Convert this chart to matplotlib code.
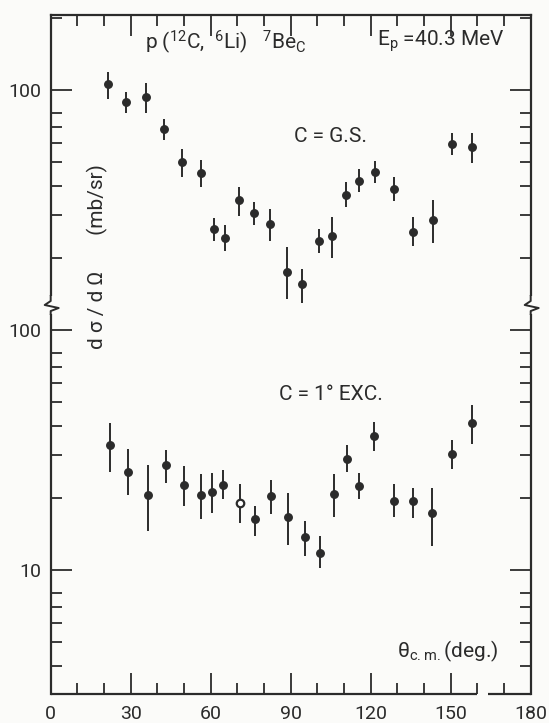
import numpy as np
import matplotlib
matplotlib.use('Agg')
import matplotlib.pyplot as plt
from matplotlib.lines import Line2D
from matplotlib.patches import Rectangle
from matplotlib.ticker import LogLocator, NullFormatter, FixedLocator, FixedFormatter, MultipleLocator

plt.rcParams['font.family'] = ['Roboto', 'DejaVu Sans']
plt.rcParams['mathtext.fontset'] = 'custom'
plt.rcParams['mathtext.rm'] = 'Roboto'
plt.rcParams['mathtext.default'] = 'regular'

INK = '#2b2b2b'
BG = '#fbfbf9'

# ground state, C = G.S.
th_gs = [21.6, 28.4, 35.7, 42.5, 49.3, 56.2, 61.3, 65.4, 70.7, 76.1, 82.2, 88.5,
         94.4, 100.5, 105.4, 110.7, 115.6, 121.6, 128.8, 135.7, 143.4, 150.5, 158.0]
xs_gs = [106, 88.9, 93.8, 68.6, 50.0, 45.2, 26.3, 24.2, 34.8, 30.8, 27.7, 17.5,
         15.5, 23.5, 24.7, 36.5, 41.9, 45.6, 38.7, 25.7, 28.7, 59.6, 58.0]
hi_gs = [119, 98.4, 106.6, 75.5, 56.8, 51.1, 29.2, 27.4, 39.3, 34.3, 31.8, 22.1,
         17.9, 26.3, 29.5, 41.2, 46.7, 50.8, 43.2, 29.5, 34.8, 66.4, 66.4]
lo_gs = [91.7, 80.0, 80.0, 61.9, 43.6, 39.3, 23.6, 21.4, 29.9, 27.4, 23.6, 13.4,
         12.9, 20.9, 19.9, 32.6, 37.5, 40.8, 34.6, 22.4, 23.0, 53.6, 49.5]

# first excited state, C = 1° EXC.
th_ex = [22.2, 29.0, 36.6, 43.1, 49.8, 56.5, 60.3, 64.6, 70.9, 76.7, 82.6, 88.9,
         95.2, 100.9, 106.1, 111.2, 115.6, 121.4, 128.9, 135.7, 142.9, 150.5, 157.9]
xs_ex = [33.2, 25.6, 20.6, 27.3, 22.6, 20.6, 21.1, 22.7, 19.0, 16.3, 20.3, 16.7,
         13.7, 11.8, 20.8, 28.9, 22.4, 36.1, 19.4, 19.3, 17.2, 30.5, 40.8]
hi_ex = [41.1, 31.8, 27.4, 31.6, 27.1, 25.1, 25.3, 26.1, 22.8, 18.5, 23.7, 21.0,
         16.0, 13.8, 25.1, 33.2, 25.3, 41.5, 22.8, 22.0, 21.9, 34.8, 48.7]
lo_ex = [25.7, 20.5, 14.5, 23.0, 18.4, 16.3, 17.2, 19.7, 15.7, 13.8, 17.1, 12.7,
         11.4, 10.2, 16.6, 25.5, 19.7, 31.4, 16.6, 16.4, 12.6, 26.3, 33.5]
open_ex = [8]  # hollow marker

W, H = 549, 723
fig = plt.figure(figsize=(W / 100, H / 100), dpi=100, facecolor=BG)

def fx(x):
    return x / W

def fy(y):
    return 1 - y / H

L, R, T, B, BRK = 50.7, 530.7, 15, 694, 305
ax1 = fig.add_axes([fx(L), fy(BRK), fx(R) - fx(L), fy(T) - fy(BRK)], facecolor='none')
ax2 = fig.add_axes([fx(L), fy(B), fx(R) - fx(L), fy(BRK) - fy(B)], facecolor='none')

def draw(ax, th, val, hi, lo, hollow=()):
    th = np.array(th); val = np.array(val)
    err = [val - np.array(lo), np.array(hi) - val]
    ax.errorbar(th, val, yerr=err, fmt='none', ecolor=INK, elinewidth=1.4, capsize=0)
    fill = np.array([i not in hollow for i in range(len(th))])
    ax.plot(th[fill], val[fill], 'o', ms=5.4, color=INK, mec=INK)
    ax.plot(th[~fill], val[~fill], 'o', ms=5.4, mfc='white', mec=INK, mew=1.6)

draw(ax1, th_gs, xs_gs, hi_gs, lo_gs)
draw(ax2, th_ex, xs_ex, hi_ex, lo_ex, open_ex)

ax1.set_ylim(10 ** (2 - (BRK - 90) / 240), 10 ** (2 + (90 - T) / 240))
ax2.set_ylim(10 ** (1 - (B - 570) / 240), 10 ** (2 + (330 - BRK) / 240))

for ax in (ax1, ax2):
    ax.set_yscale('log')
    ax.set_xlim(0, 180)
    ax.xaxis.set_major_locator(MultipleLocator(30))
    ax.xaxis.set_minor_locator(MultipleLocator(10))
    ax.yaxis.set_minor_locator(LogLocator(subs=[2, 3, 4, 5, 6, 7, 8]))
    ax.yaxis.set_minor_formatter(NullFormatter())
    ax.tick_params(which='both', direction='in', color=INK, width=1.3, labelcolor=INK,
                   labelsize=14, left=True, right=True)
    ax.tick_params(which='major', length=15)
    ax.tick_params(which='minor', length=8)
    ax.tick_params(axis='y', pad=7)
    ax.tick_params(axis='x', pad=8)
    for s in ax.spines.values():
        s.set_color(INK)
        s.set_linewidth(1.6)

ax1.yaxis.set_major_locator(FixedLocator([100]))
ax1.yaxis.set_major_formatter(FixedFormatter(['100']))
ax2.yaxis.set_major_locator(FixedLocator([10, 100]))
ax2.yaxis.set_major_formatter(FixedFormatter(['10', '100']))

ax1.tick_params(axis='x', which='both', bottom=False, top=True, labelbottom=False)
ax1.spines['bottom'].set_visible(False)
ax2.tick_params(axis='x', which='both', bottom=True, top=False)
ax2.spines['top'].set_visible(False)
ax2.spines['bottom'].set_visible(False)
# bottom frame line, with the small gap seen in the scan
tr = ax2.get_xaxis_transform()
ax2.plot([0, 159.8], [0, 0], color=INK, lw=1.6, transform=tr, clip_on=False, solid_capstyle='butt')
ax2.plot([164.0, 180], [0, 0], color=INK, lw=1.6, transform=tr, clip_on=False, solid_capstyle='butt')

# axis break marks on both sides
for xa in (L, R):
    fig.add_artist(Rectangle((fx(xa - 3), fy(BRK + 9)), fx(6), fy(0) - fy(18),
                             transform=fig.transFigure, facecolor=BG, edgecolor='none', zorder=5))
    pts = [(0, -9), (0, -4), (-6, 0), (8, 3), (0, 6), (0, 9)]
    fig.add_artist(Line2D([fx(xa + dx) for dx, dy in pts],
                          [fy(BRK + dy) for dx, dy in pts],
                          transform=fig.transFigure, color=INK, lw=1.4, zorder=6))

txt = dict(color=INK, fontsize=15)
fig.text(fx(145), fy(42), r'p ($^{12}$C,  $^{6}$Li)   $^{7}$Be$_{C}$', ha='left', va='center', **txt)
fig.text(fx(377), fy(41), r'E$_{p}$ =40.3 MeV', ha='left', va='center', **txt)
fig.text(fx(331), fy(136), 'C = G.S.', ha='center', va='center', **txt)
fig.text(fx(331), fy(395), 'C = 1° EXC.', ha='center', va='center', **txt)
fig.text(fx(397), fy(651), r'θ$_{c.m.}$(deg.)', ha='left', va='center', **txt)
fig.text(fx(97), fy(257), 'd σ / d Ω       (mb/sr)', ha='center', va='center',
         rotation=90, **txt)

fig.savefig('out.png', dpi=100, facecolor=BG)
